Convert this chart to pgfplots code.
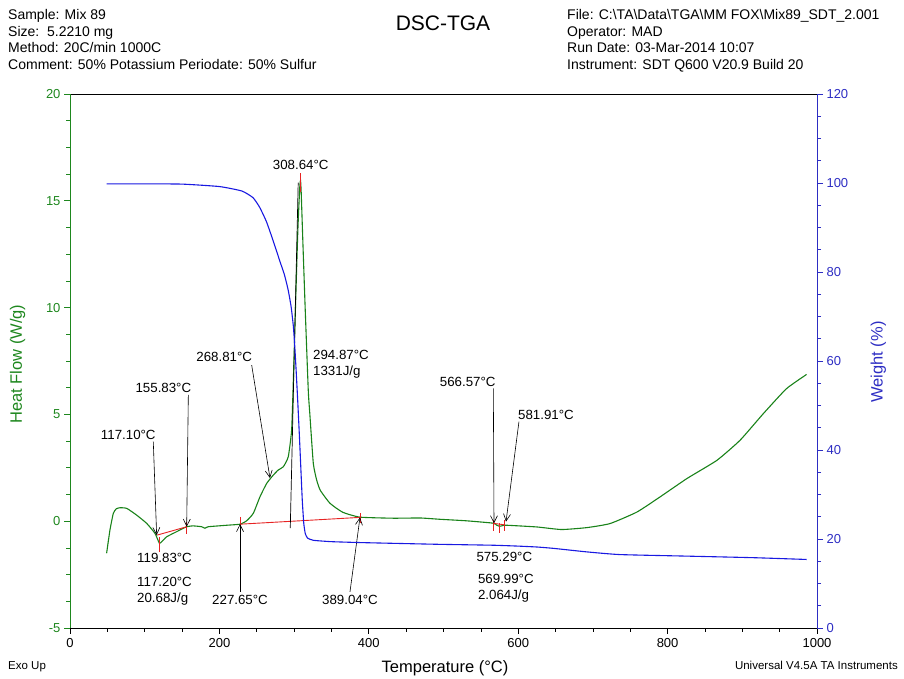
\documentclass[border=0pt]{standalone}
\usepackage{fontspec}
\setmainfont{Liberation Sans}
\usepackage{pgfplots}
\pgfplotsset{compat=1.18}
\usetikzlibrary{arrows.meta}

\definecolor{dscgreen}{RGB}{25,130,25}
\definecolor{axgreen}{RGB}{30,135,30}
\definecolor{tgablue}{RGB}{25,25,225}
\definecolor{axblue}{RGB}{45,45,195}
\definecolor{markred}{RGB}{230,35,35}

\tikzset{
  annot/.style={black, line width=0.6pt, -{Straight Barb[length=7pt,width=7pt,line width=0.6pt]}},
  lbl/.style={font=\fontsize{13.3}{16.5}\selectfont, inner sep=0pt, align=left},
}

% DSC heat flow (W/g) against temperature (°C)
\pgfplotstableread{
T H
49 -1.50
53.5 -0.41
58 0.37
62 0.58
67 0.63
76 0.60
89 0.29
102.6 -0.10
113.8 -0.57
119.6 -1.03
122.7 -0.96
129.4 -0.73
142.8 -0.49
156.2 -0.26
165 -0.22
176.3 -0.26
180.7 -0.33
185 -0.26
209.7 -0.19
227.6 -0.14
236.5 0.02
245.4 0.37
254.4 1.15
263.3 1.77
272.2 2.16
278.9 2.40
285.6 2.55
292.2 3.02
296.7 4.27
299 6.61
302 10.2
305 13.6
307.5 15.6
308.6 15.95
309.5 15.4
312 12.8
315 9.8
319 6.1
321 5.05
325.7 2.71
330.2 1.93
335 1.45
348 0.84
365 0.42
388 0.19
433 0.14
469 0.15
495 0.09
530 0.02
566 -0.09
571 -0.18
575 -0.24
580 -0.20
585 -0.19
625 -0.27
658 -0.39
692 -0.30
723 -0.11
759 0.43
790 1.14
826 2.00
866 2.85
897 3.79
928 5.03
959 6.20
986 6.87
}\dscdata

% TGA weight (%) against temperature (°C)
\pgfplotstableread{
T W
49 99.8
100 99.8
150 99.75
200 99.2
230 98.2
245 96.7
254 94.5
263 91.3
272 87.0
281 82.4
287 79.4
292 76.0
296 72.2
299 67.8
301 63.0
303 57.0
305 50.5
307 43.5
309 36.0
311 28.5
313 23.4
315 21.2
318 20.2
326 19.7
350 19.4
388 19.2
440 19.0
495 18.8
566 18.6
600 18.4
625 18.2
647 17.9
692 17.1
736 16.5
826 16.15
915 15.8
986 15.4
}\tgadata

\begin{document}
\begin{tikzpicture}
\useasboundingbox (0pt,0pt) rectangle (904pt,679pt);

% header block
\begin{scope}[every node/.style={font=\fontsize{14}{16}\selectfont, anchor=base west, inner sep=0pt}]
\node at (8pt,659pt) {Sample: Mix 89};
\node at (8pt,642.5pt) {Size:\ \ 5.2210 mg};
\node at (8pt,626pt) {Method: 20C/min 1000C};
\node at (8pt,609.5pt) {Comment: 50\% Potassium Periodate: 50\% Sulfur};
\node at (567pt,659pt) {File: C:\textbackslash TA\textbackslash Data\textbackslash TGA\textbackslash MM FOX\textbackslash Mix89\_SDT\_2.001};
\node at (567pt,642.5pt) {Operator: MAD};
\node at (567pt,626pt) {Run Date: 03-Mar-2014 10:07};
\node at (567pt,609.5pt) {Instrument: SDT Q600 V20.9 Build 20};
\end{scope}
\node[font=\fontsize{21}{22}\selectfont, anchor=base, inner sep=0pt] at (443pt,648pt) {DSC-TGA};
\node[font=\fontsize{11.5}{12}\selectfont, anchor=base west, inner sep=0pt] at (8pt,9pt) {Exo Up};
\node[font=\fontsize{11.5}{12}\selectfont, anchor=base east, inner sep=0pt] at (898pt,9pt) {Universal V4.5A TA Instruments};

% heat flow axis
\begin{axis}[
  at={(70pt,51pt)}, anchor=south west,
  scale only axis, width=747pt, height=534pt,
  xmin=0, xmax=1000, ymin=-5, ymax=20,
  clip=false,
  separate axis lines,
  x axis line style={black, line width=0.9pt},
  y axis line style={axgreen, line width=0.9pt},
  xtick={0,200,...,1000}, ytick={-5,0,...,20},
  minor x tick num=3, minor y tick num=3,
  xtick pos=left, ytick pos=left,
  tick align=outside,
  major tick length=6pt, minor tick length=4pt,
  x tick style={black, line width=0.7pt},
  y tick style={axgreen, line width=0.7pt},
  /pgf/number format/assume math mode=true,
  /pgf/number format/1000 sep={},
  tick label style={font=\fontsize{13}{13}\selectfont},
  yticklabel style={text=axgreen},
  xticklabel style={yshift=-1pt},
  xlabel={Temperature (°C)},
  xlabel style={at={(axis description cs:0.502,-0.075)}, anchor=center, font=\fontsize{16.5}{17}\selectfont},
  ylabel={Heat Flow (W/g)},
  ylabel style={at={(axis description cs:-0.070,0.494)}, anchor=center, font=\fontsize{16.5}{17}\selectfont, text=axgreen},
]
\addplot[dscgreen, line width=1.1pt, smooth, tension=0.3] table[x=T, y=H] {\dscdata};

% integration baselines and limit marks
\addplot[markred, line width=0.9pt] coordinates {(116.7,-0.65) (156.2,-0.26)};
\addplot[markred, line width=0.9pt] coordinates {(119.8,-0.73) (119.8,-1.43)};
\addplot[markred, line width=0.9pt] coordinates {(155.8,-0.02) (155.8,-0.60)};
\addplot[markred, line width=0.9pt] coordinates {(227.65,-0.14) (389.04,0.18)};
\addplot[markred, line width=0.9pt] coordinates {(227.65,0.20) (227.65,-0.32)};
\addplot[markred, line width=0.9pt] coordinates {(389.04,0.38) (389.04,-0.08)};
\addplot[markred, line width=0.9pt] coordinates {(308.64,15.4) (308.64,16.3)};
\addplot[markred, line width=0.9pt] coordinates {(566.57,-0.10) (581.91,-0.17)};
\addplot[markred, line width=0.9pt] coordinates {(566.57,0.05) (566.57,-0.45)};
\addplot[markred, line width=0.9pt] coordinates {(575.29,-0.10) (575.29,-0.55)};
\addplot[markred, line width=0.9pt] coordinates {(581.91,0.05) (581.91,-0.45)};
\addplot[black, line width=0.7pt] coordinates {(294.87,-0.32) (305.5,15.85)};

% peak annotations
\node[lbl] at (78,4.04) {117.10°C};
\draw[annot] (111.5,3.72) -- (116,-0.65);
\node[lbl] at (125,6.22) {155.83°C};
\draw[annot] (158.4,5.91) -- (156.2,-0.26);
\node[lbl, anchor=west] at (89.7,-1.72) {119.83°C};
\node[lbl, anchor=west] at (89.7,-3.29) {117.20°C\\20.68J/g};
\node[lbl] at (227.6,-3.69) {227.65°C};
\draw[annot] (227.6,-3.31) -- (227.6,-0.13);
\node[lbl] at (374.8,-3.69) {389.04°C};
\draw[annot] (374.8,-3.31) -- (388.2,0.18);
\node[lbl] at (206.5,7.67) {268.81°C};
\draw[annot] (243.2,7.31) -- (267.7,2.02);
\node[lbl, anchor=west] at (325.3,7.35) {294.87°C\\1331J/g};
\node[lbl] at (308.8,16.68) {308.64°C};
\node[lbl] at (532.4,6.53) {566.57°C};
\draw[annot] (566.7,6.22) -- (567.6,-0.10);
\node[lbl] at (637.2,4.97) {581.91°C};
\draw[annot] (601,4.66) -- (583.7,-0.02);
\node[lbl] at (581.4,-1.66) {575.29°C};
\node[lbl, anchor=west] at (546,-3.13) {569.99°C\\2.064J/g};
\end{axis}

% weight axis
\begin{axis}[
  at={(70pt,51pt)}, anchor=south west,
  scale only axis, width=747pt, height=534pt,
  xmin=0, xmax=1000, ymin=0, ymax=120,
  axis x line=none, axis y line*=right,
  every outer y axis line/.style={axblue, line width=0.9pt},
  y axis line style={axblue, line width=0.9pt, -},
  ytick={0,20,...,120}, minor y tick num=3,
  tick align=outside,
  major tick length=6pt, minor tick length=4pt,
  y tick style={axblue, line width=0.7pt},
  /pgf/number format/assume math mode=true,
  tick label style={font=\fontsize{13}{13}\selectfont},
  yticklabel style={text=axblue},
  ylabel={Weight (\%)},
  ylabel style={at={(axis description cs:1.082,0.498)}, anchor=center, rotate=0, font=\fontsize{16.5}{17}\selectfont, text=axblue},
]
\addplot[tgablue, line width=1.1pt, smooth, tension=0.3] table[x=T, y=W] {\tgadata};
\end{axis}
\end{tikzpicture}
\end{document}
